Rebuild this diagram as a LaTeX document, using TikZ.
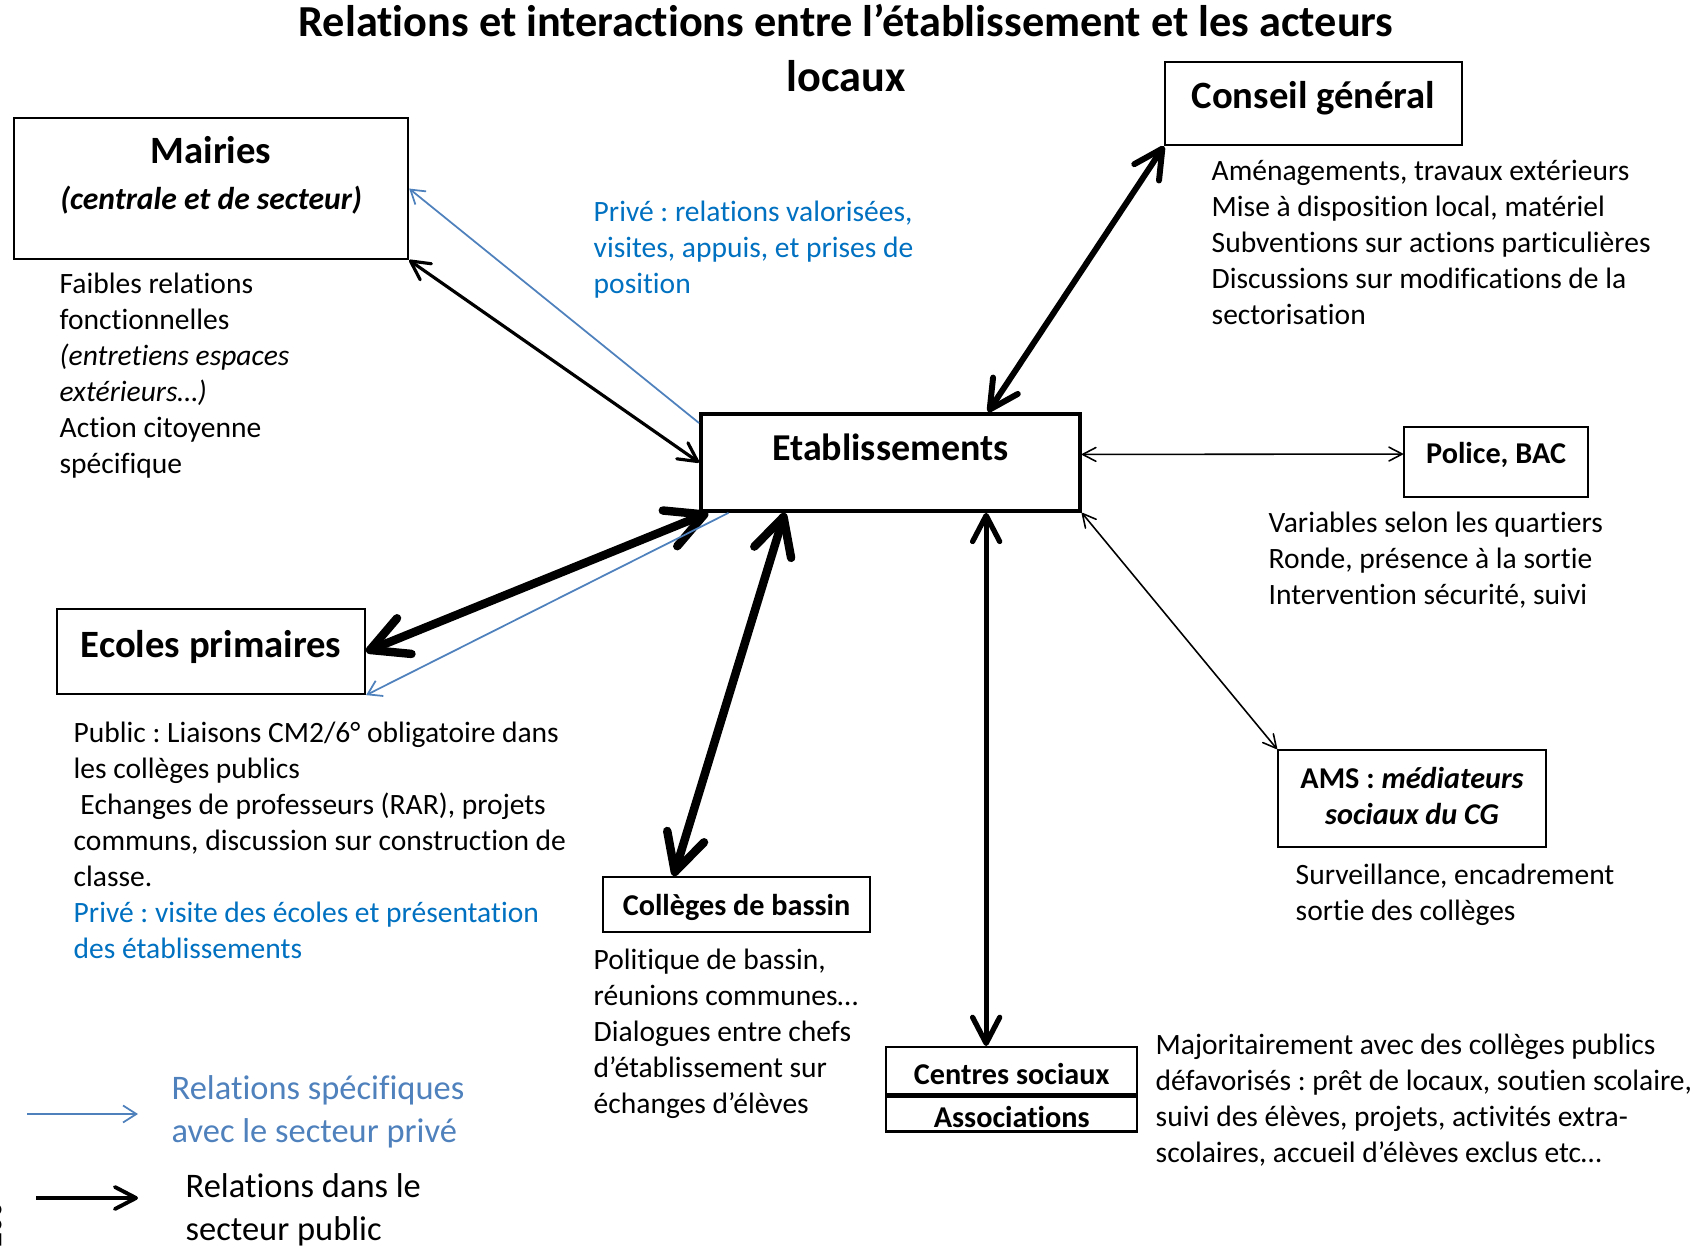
\documentclass[tikz,border=0pt]{standalone}
\usepackage{fontspec}
\setmainfont{Carlito}[Ligatures=NoCommon]
\usetikzlibrary{arrows.meta, positioning, calc}
\definecolor{privBlue}{HTML}{0070C0}
\definecolor{legendBlue}{HTML}{4F81BD}
\newcommand{\bodysize}{\fontsize{8.4}{10.2}\selectfont}
\newcommand{\bigbox}{\fontsize{11}{13}\selectfont\bfseries}
\newcommand{\smallbox}{\fontsize{8.6}{10.2}\selectfont\bfseries}
\frenchspacing

\begin{document}
\begin{tikzpicture}[
  box/.style={draw, line width=0.6pt, inner sep=0pt, anchor=north west, align=center},
  desc/.style={anchor=base west, align=left, inner sep=0pt, font=\bodysize},
  pub/.style={line width=#1, {Straight Barb[angle=55:2.5pt 3.9, round]}-{Straight Barb[angle=55:2.5pt 3.9, round]}},
  priv/.style={draw=legendBlue, line width=0.5pt, -{Straight Barb[angle=65:3pt 3]}}
]
  \useasboundingbox (0,0) rectangle (17.08,-12.47);

  % title (base = last line)
  \node[anchor=base, align=center, font=\fontsize{12.6}{15.4}\selectfont\bfseries] (title) at (8.46,-0.91)
    {Relations et interactions entre l’établissement et les acteurs\\locaux};

  % actors
  \node[box, line width=1.1pt, minimum width=3.79cm, text height=0.47cm, text depth=0.50cm,
        font=\fontsize{10.8}{13}\selectfont\bfseries] (etab) at (6.99,-4.12) {Etablissements};
  \node[box, minimum width=3.94cm, text height=0.91cm, text depth=0.50cm,
        font=\fontsize{9}{13}\selectfont\bfseries] (mairie) at (0.13,-1.17)
    {{\fontsize{11}{13}\selectfont Mairies}\\\textit{(centrale et de secteur)}};
  \node[box, minimum width=2.97cm, text height=0.46cm, text depth=0.37cm, font=\bigbox] (conseil) at (11.64,-0.61) {Conseil général};
  \node[box, minimum width=1.84cm, text height=0.36cm, text depth=0.34cm, font=\smallbox] (police) at (14.03,-4.26) {Police, BAC};
  \node[box, minimum width=2.68cm, text height=0.74cm, text depth=0.23cm, font=\smallbox] (ams) at (12.77,-7.49)
    {AMS : \textit{médiateurs}\\\textit{sociaux du CG}};
  \node[box, minimum width=3.08cm, text height=0.48cm, text depth=0.37cm, font=\bigbox] (ecoles) at (0.56,-6.08) {Ecoles primaires};
  \node[box, minimum width=2.67cm, text height=0.38cm, text depth=0.17cm, font=\smallbox] (colleges) at (6.02,-8.76) {Collèges de bassin};
  \node[box, line width=0.7pt, minimum width=2.51cm, text height=0.37cm, text depth=0.10cm, font=\smallbox] (centres) at (8.85,-10.46) {Centres sociaux};
  \node[box, line width=0.7pt, anchor=north, minimum width=2.51cm, text height=0.31cm, text depth=0.04cm, font=\smallbox,
        below=0pt of centres] (assoc) {Associations};

  % descriptions (base = last line)
  \node[desc] (mairieTxt) at (0.59,-4.73)
    {Faibles relations\\fonctionnelles\\\textit{(entretiens espaces}\\\textit{extérieurs…)}\\Action citoyenne\\spécifique};
  \node[desc, text=privBlue] (priveTxt) at (5.93,-2.93)
    {Privé : relations valorisées,\\visites, appuis, et prises de\\position};
  \node[desc] (conseilTxt) at (12.11,-3.24)
    {Aménagements, travaux extérieurs\\Mise à disposition local, matériel\\Subventions sur actions particulières\\Discussions sur modifications de la\\sectorisation};
  \node[desc] (policeTxt) at (12.68,-6.04)
    {Variables selon les quartiers\\Ronde, présence à la sortie\\Intervention sécurité, suivi};
  \node[desc] (amsTxt) at (12.95,-9.20) {Surveillance, encadrement\\sortie des collèges};
  \node[desc] (ecolesTxt) at (0.73,-9.58)
    {Public : Liaisons CM2/6° obligatoire dans\\les collèges publics\\\hspace*{0.23em}Echanges de professeurs (RAR), projets\\communs, discussion sur construction de\\classe.\\
     \textcolor{privBlue}{Privé : visite des écoles et présentation}\\\textcolor{privBlue}{des établissements}};
  \node[desc] (collegesTxt) at (5.93,-11.13)
    {Politique de bassin,\\réunions communes…\\Dialogues entre chefs\\d’établissement sur\\échanges d’élèves};
  \node[desc] (centresTxt) at (11.55,-11.62)
    {Majoritairement avec des collèges publics\\défavorisés : prêt de locaux, soutien scolaire,\\suivi des élèves, projets, activités extra-\\scolaires, accueil d’élèves exclus etc…};

  % relations
  \draw[pub=0.9pt] (mairie.south east) -- (etab.west);
  \draw[priv] ($(etab.north west)+(0,-0.11)$) -- (mairie.east);
  \draw[pub=1.7pt] (conseil.south west) -- ($(etab.north west)!0.755!(etab.north east)$);
  \draw[pub=0.45pt] ([yshift=0.08cm]etab.east) -- ([yshift=0.08cm]police.west);
  \draw[pub=0.45pt] (etab.south east) -- (ams.north west);
  \coordinate (eC) at ($(etab.south west)!0.75!(etab.south east)$);
  \draw[pub=1.5pt] (eC) -- (eC |- centres.north);
  \draw[pub=2.4pt] ($(etab.south west)!0.224!(etab.south east)$) -- ($(colleges.north west)!0.266!(colleges.north east)$);
  \draw[pub=2.4pt] ($(etab.south west)!0.024!(etab.south east)$) -- (ecoles.east);
  \draw[priv] ($(etab.south west)!0.077!(etab.south east)$) -- (ecoles.south east);

  % legend
  \coordinate (lgB1) at (0.27,-11.14);
  \coordinate (lgB2) at (1.38,-11.14);
  \draw[priv] (lgB1) -- (lgB2);
  \node[anchor=base west, align=left, inner sep=0pt, text=legendBlue, font=\fontsize{9.8}{12.2}\selectfont] (lgBlue) at (1.71,-11.42)
    {Relations spécifiques\\avec le secteur privé};
  \coordinate (lgK1) at (0.36,-11.98);
  \coordinate (lgK2) at (1.38,-11.98);
  \draw[line width=1.1pt, -{Straight Barb[angle=55:2.5pt 3.9, round]}] (lgK1) -- (lgK2);
  \node[anchor=base west, align=left, inner sep=0pt, font=\fontsize{9.8}{12.2}\selectfont] (lgBlack) at (1.85,-12.40)
    {Relations dans le\\secteur public};

  \node[rotate=90, inner sep=0pt, font=\bodysize] (margeNote) at (-0.08,-12.25) {200};
\end{tikzpicture}
\end{document}
